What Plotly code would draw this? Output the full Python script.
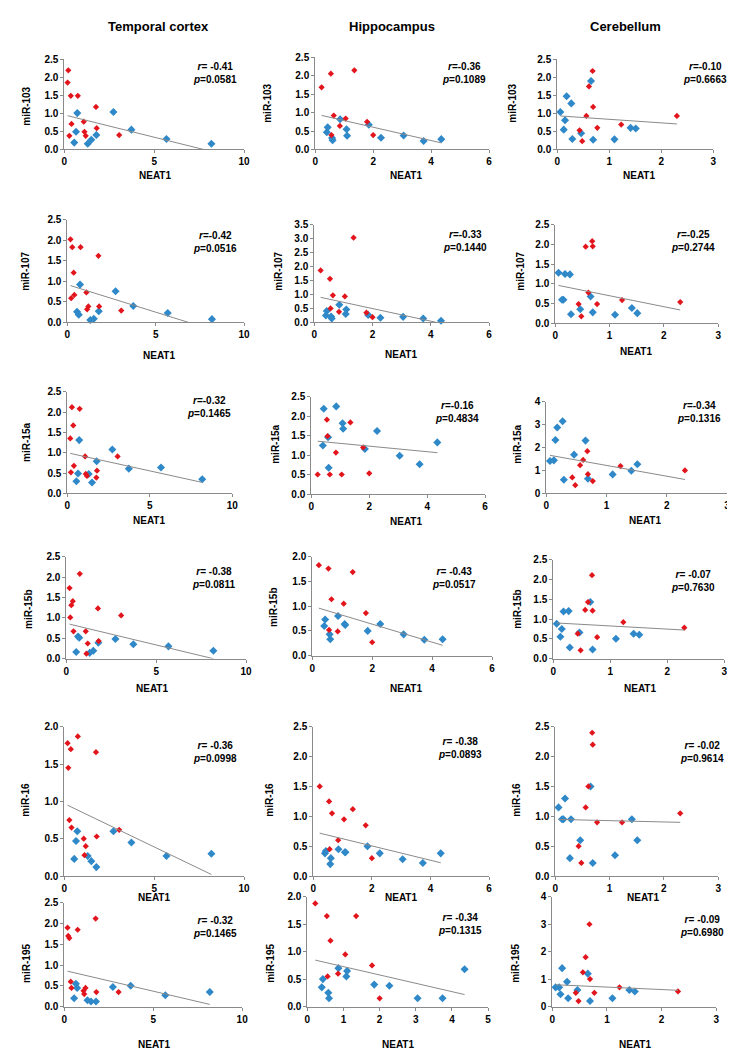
import plotly.graph_objects as go

W, H = 735, 1053
RED = "#E2141C"
BLUE = "#2F88C8"
GRAY = "#8A8A8A"
FONT = "Liberation Sans, Arial, sans-serif"

tissues = ["Temporal cortex", "Hippocampus", "Cerebellum"]
mirnas = ["miR-103", "miR-107", "miR-15a", "miR-15b", "miR-16", "miR-195"]

# NEAT1 level of each sample (same samples in every row)
tc_neat1_blue = [0.55, 0.65, 0.72, 1.30, 1.50, 1.78, 2.73, 3.73, 5.68, 8.18]
tc_neat1_red = [0.18, 0.22, 0.28, 0.36, 0.40, 0.75, 1.08, 1.12, 1.19, 1.76, 1.80, 3.05]
hc_neat1_blue = [0.40, 0.43, 0.58, 0.60, 0.86, 1.08, 1.10, 1.85, 2.27, 3.05, 3.74, 4.35]
hc_neat1_red = [0.22, 0.54, 0.56, 0.64, 0.85, 1.05, 1.35, 1.79, 2.00]
cb_neat1_blue = [0.06, 0.125, 0.15, 0.18, 0.27, 0.29, 0.46, 0.65, 0.69, 1.10, 1.41, 1.51]
cb_neat1_red = [0.43, 0.48, 0.56, 0.61, 0.68, 0.69, 0.77, 1.23, 2.30]

# temporal cortex miRNA levels
tc_103_b = [0.19, 0.49, 1.01, 0.16, 0.27, 0.40, 1.04, 0.55, 0.29, 0.16]
tc_103_r = [1.86, 2.20, 0.38, 1.49, 0.71, 1.49, 0.77, 0.49, 0.38, 1.18, 0.59, 0.40]
tc_107_b = [0.26, 0.19, 0.92, 0.06, 0.09, 0.27, 0.76, 0.40, 0.23, 0.08]
tc_107_r = [2.02, 0.59, 1.83, 1.21, 0.67, 1.83, 0.73, 0.32, 0.39, 1.62, 0.39, 0.29]
tc_15a_b = [0.30, 0.49, 1.31, 0.48, 0.27, 0.79, 1.08, 0.61, 0.64, 0.35]
tc_15a_r = [1.35, 0.52, 2.12, 1.67, 0.68, 2.08, 0.91, 0.48, 0.43, 0.39, 0.56, 0.91]
tc_15b_b = [0.16, 0.54, 0.51, 0.14, 0.19, 0.39, 0.48, 0.35, 0.30, 0.19]
tc_15b_r = [1.73, 1.01, 1.31, 1.41, 0.67, 2.08, 0.67, 0.12, 0.37, 1.23, 0.43, 1.06]
tc_16_b = [0.23, 0.47, 0.60, 0.27, 0.20, 0.12, 0.60, 0.45, 0.27, 0.30]
tc_16_r = [1.78, 1.45, 0.75, 1.70, 0.65, 1.87, 0.50, 0.28, 0.40, 1.66, 0.53, 0.62]
tc_195_b = [0.20, 0.55, 0.45, 0.15, 0.12, 0.12, 0.47, 0.50, 0.27, 0.35]
tc_195_r = [1.90, 1.70, 1.65, 0.60, 0.45, 1.85, 0.38, 0.30, 0.45, 2.12, 0.35, 0.35]

# hippocampus
hc_103_b = [0.47, 0.60, 0.31, 0.25, 0.82, 0.55, 0.37, 0.67, 0.32, 0.38, 0.23, 0.28]
hc_103_r = [1.69, 2.06, 0.39, 0.92, 0.64, 0.84, 2.15, 0.75, 0.39]
hc_107_b = [0.25, 0.41, 0.21, 0.14, 0.63, 0.30, 0.46, 0.27, 0.17, 0.20, 0.14, 0.06]
hc_107_r = [1.86, 1.56, 0.50, 0.97, 0.38, 0.93, 3.03, 0.35, 0.19]
hc_15a_b = [1.25, 2.19, 1.46, 0.68, 2.25, 1.82, 1.68, 1.16, 1.62, 0.99, 0.77, 1.33]
hc_15a_r = [0.51, 1.91, 1.49, 0.51, 1.07, 0.51, 1.84, 1.20, 0.54]
hc_15b_b = [0.60, 0.73, 0.43, 0.33, 0.80, 0.64, 0.62, 0.50, 0.64, 0.43, 0.32, 0.33]
hc_15b_r = [1.83, 1.76, 0.52, 1.14, 0.49, 1.05, 1.69, 0.86, 0.27]
hc_16_b = [0.38, 0.42, 0.20, 0.30, 0.45, 0.40, 0.40, 0.50, 0.38, 0.28, 0.22, 0.38]
hc_16_r = [1.50, 1.25, 0.45, 1.05, 0.60, 0.95, 1.12, 0.85, 0.30]
hc_195_b = [0.35, 0.50, 0.25, 0.15, 0.70, 0.55, 0.65, 0.40, 0.38, 0.15, 0.15, 0.68]
hc_195_r = [1.88, 1.65, 0.55, 1.20, 0.60, 0.95, 1.65, 0.75, 0.15]

# cerebellum
cb_103_b = [1.04, 0.55, 0.81, 1.48, 1.28, 0.29, 0.45, 1.90, 0.27, 0.28, 0.60, 0.58]
cb_103_r = [0.53, 0.23, 0.93, 1.75, 2.18, 1.18, 0.60, 0.69, 0.93]
cb_107_b = [1.28, 0.60, 0.60, 1.25, 1.24, 0.23, 0.36, 0.68, 0.28, 0.22, 0.39, 0.26]
cb_107_r = [0.49, 0.18, 1.94, 0.78, 2.08, 1.95, 0.49, 0.59, 0.54]
cb_15a_b = [1.41, 1.44, 2.33, 2.87, 3.14, 0.60, 1.69, 2.30, 0.64, 0.83, 0.99, 1.27]
cb_15a_r = [0.70, 0.36, 1.23, 1.46, 1.84, 0.84, 0.54, 1.19, 1.00]
cb_15b_b = [0.88, 0.55, 0.75, 1.19, 1.20, 0.28, 0.66, 1.43, 0.23, 0.50, 0.63, 0.60]
cb_15b_r = [0.63, 0.21, 1.23, 1.43, 2.11, 1.21, 0.54, 0.92, 0.78]
cb_16_b = [1.15, 0.95, 0.95, 1.30, 0.30, 0.95, 0.60, 1.50, 0.22, 0.35, 0.95, 0.60]
cb_16_r = [0.50, 0.22, 1.15, 1.50, 2.40, 2.20, 0.90, 0.90, 1.05]
cb_195_b = [0.70, 0.70, 0.45, 1.40, 0.90, 0.30, 0.60, 1.20, 0.20, 0.30, 0.60, 0.55]
cb_195_r = [0.50, 0.20, 1.25, 1.80, 3.00, 1.00, 0.50, 0.70, 0.55]

# linear trend lines (intercept, slope)
tc_icpt = [0.96, 0.92, 1.00, 0.864, 0.97, 0.87]
tc_slope = [-0.124, -0.134, -0.089, -0.106, -0.116, -0.10]
hc_icpt = [0.966, 0.946, 1.376, 1.00, 0.745, 0.88]
hc_slope = [-0.181, -0.225, -0.071, -0.182, -0.12, -0.152]
cb_icpt = [0.936, 0.977, 1.688, 0.905, 0.95, 0.80]
cb_slope = [-0.099, -0.277, -0.469, -0.08, -0.022, -0.09]

tc_r = [" -0.41", "-0.42", "-0.32", " -0.38", " -0.36", " -0.32"]
tc_p = ["0.0581", "0.0516", "0.1465", "0.0811", "0.0998", "0.1465"]
hc_r = ["-0.36", "-0.33", "-0.16", " -0.43", " -0.38", " -0.34"]
hc_p = ["0.1089", "0.1440", "0.4834", "0.0517", "0.0893", "0.1315"]
cb_r = ["-0.10", "-0.25", "-0.34", " -0.07", " -0.02", " -0.09"]
cb_p = ["0.6663", "0.2744", "0.1316", "0.7630", "0.9614", "0.6980"]

tc_xmax = [10, 10, 10, 10, 10, 10]
hc_xmax = [6, 6, 6, 6, 6, 5]
cb_xmax = [3, 3, 3, 3, 3, 3]
tc_ymax = [2.5, 2.5, 2.5, 2.5, 2.0, 2.5]
hc_ymax = [2.5, 3.5, 2.5, 2.0, 2.5, 2.0]
cb_ymax = [2.5, 2.5, 4, 2.5, 2.5, 4]

cols = [
    (tc_neat1_blue, tc_neat1_red,
     [tc_103_b, tc_107_b, tc_15a_b, tc_15b_b, tc_16_b, tc_195_b],
     [tc_103_r, tc_107_r, tc_15a_r, tc_15b_r, tc_16_r, tc_195_r],
     tc_icpt, tc_slope, tc_r, tc_p, tc_xmax, tc_ymax),
    (hc_neat1_blue, hc_neat1_red,
     [hc_103_b, hc_107_b, hc_15a_b, hc_15b_b, hc_16_b, hc_195_b],
     [hc_103_r, hc_107_r, hc_15a_r, hc_15b_r, hc_16_r, hc_195_r],
     hc_icpt, hc_slope, hc_r, hc_p, hc_xmax, hc_ymax),
    (cb_neat1_blue, cb_neat1_red,
     [cb_103_b, cb_107_b, cb_15a_b, cb_15b_b, cb_16_b, cb_195_b],
     [cb_103_r, cb_107_r, cb_15a_r, cb_15b_r, cb_16_r, cb_195_r],
     cb_icpt, cb_slope, cb_r, cb_p, cb_xmax, cb_ymax),
]

# plot boxes in pixels: left, right, top, bottom
boxes = [
    [(54, 236, 46, 137), (308, 484, 44, 137), (553, 711, 46, 137)],
    [(57, 236, 208, 312), (307, 484, 213, 312), (551, 716, 213, 313)],
    [(57, 224, 382, 485), (304, 480, 387, 486), (542, 725, 392, 485)],
    [(56, 238, 549, 652), (305, 487, 549, 649), (549, 722, 552, 652)],
    [(54, 236, 721, 872), (306, 484, 721, 872), (551, 716, 721, 872)],
    [(54, 234, 899, 1004), (300, 483, 893, 1004), (548, 714, 893, 1004)],
]
# r/p text centre and axis title positions (pixels)
stat_pos = [
    [(207, 60), (459, 60), (703, 60)],
    [(207, 231), (460, 230), (690, 230)],
    [(200, 398), (452, 403), (697, 403)],
    [(205, 570), (448, 570), (690, 574)],
    [(207, 747), (455, 742), (700, 747)],
    [(207, 924), (455, 920), (700, 923)],
]
xt_pos = [
    [(146, 163), (400, 163), (636, 163)],
    [(150, 345), (395, 344), (633, 341)],
    [(140, 512), (400, 513), (642, 512)],
    [(143, 682), (400, 682), (637, 682)],
    [(145, 894), (395, 894), (640, 894)],
    [(145, 1042), (392, 1042), (632, 1042)],
]
yt_pos = [
    [(16, 93), (260, 90), (508, 90)],
    [(14, 260), (270, 260), (515, 260)],
    [(15, 433), (267, 435), (512, 435)],
    [(17, 602), (265, 600), (512, 602)],
    [(15, 795), (262, 795), (512, 795)],
    [(15, 960), (262, 960), (510, 960)],
]
head_pos = [(149, 13), (386, 13), (622, 13)]

fig = go.Figure()
annotations = []
bold = dict(family=FONT, size=10, color="black", weight="bold")

for c, (xb, xr, yb_rows, yr_rows, icpt, slope, rs, ps, xmaxs, ymaxs) in enumerate(cols):
    for r in range(6):
        k = r * 3 + c + 1
        xa = "x" if k == 1 else f"x{k}"
        ya = "y" if k == 1 else f"y{k}"
        fig.add_trace(go.Scatter(
            x=xb, y=yb_rows[r], mode="markers", xaxis=xa, yaxis=ya,
            marker=dict(symbol="diamond", size=6.2, color=BLUE), cliponaxis=False,
            showlegend=False))
        fig.add_trace(go.Scatter(
            x=xr, y=yr_rows[r], mode="markers", xaxis=xa, yaxis=ya,
            marker=dict(symbol="diamond", size=4.8, color=RED), cliponaxis=False,
            showlegend=False))
        x0 = min(xb + xr)
        x1 = max(xb + xr)
        fig.add_trace(go.Scatter(
            x=[x0, x1], y=[icpt[r] + slope[r] * x0, icpt[r] + slope[r] * x1],
            mode="lines", xaxis=xa, yaxis=ya,
            line=dict(color=GRAY, width=1), showlegend=False))

        left, right, top, bottom = boxes[r][c]
        ymax = ymaxs[r]
        ax = dict(showline=True, linecolor=GRAY, linewidth=1, showgrid=False,
                  zeroline=False, ticks="outside", ticklen=3, tickcolor=GRAY,
                  tickfont=bold)
        fig.layout[f"xaxis{k}"] = dict(
            ax, domain=[left / W, right / W], anchor=ya, range=[0, xmaxs[r]],
            dtick=5 if xmaxs[r] == 10 else (2 if xmaxs[r] == 6 else 1))
        fig.layout[f"yaxis{k}"] = dict(
            ax, domain=[1 - bottom / H, 1 - top / H], anchor=xa, range=[0, ymax],
            dtick=1 if ymax == 4 else 0.5, tickformat="d" if ymax == 4 else ".1f")

        sx, sy = stat_pos[r][c]
        annotations.append(dict(
            x=sx / W, y=1 - sy / H, xref="paper", yref="paper", showarrow=False,
            text=f"<i>r</i>={rs[r]}<br><i>p</i>={ps[r]}", align="center",
            font=bold, xanchor="center", yanchor="middle"))
        tx, ty = xt_pos[r][c]
        annotations.append(dict(
            x=tx / W, y=1 - ty / H, xref="paper", yref="paper", showarrow=False,
            text="NEAT1", font=bold, xanchor="center", yanchor="middle"))
        tx, ty = yt_pos[r][c]
        annotations.append(dict(
            x=tx / W, y=1 - ty / H, xref="paper", yref="paper", showarrow=False,
            text=mirnas[r], font=bold, textangle=-90, xanchor="center", yanchor="middle"))

for c, name in enumerate(tissues):
    hx, hy = head_pos[c]
    annotations.append(dict(
        x=hx / W, y=1 - hy / H, xref="paper", yref="paper", showarrow=False,
        text=name, font=dict(family=FONT, size=13, color="black", weight="bold"),
        xanchor="center", yanchor="middle"))

fig.update_layout(
    width=W, height=H, autosize=False, margin=dict(l=0, r=0, t=0, b=0),
    paper_bgcolor="white", plot_bgcolor="white", annotations=annotations,
    font=dict(family=FONT))

fig.write_html("out.html")
